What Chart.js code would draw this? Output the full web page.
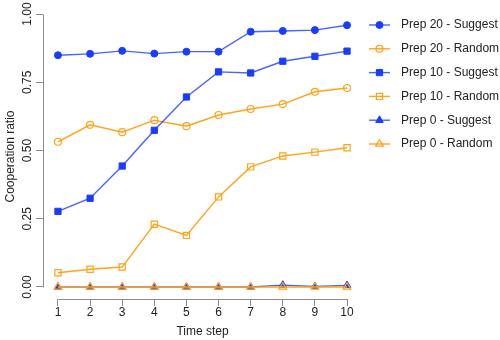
<!DOCTYPE html>
<html>
<head>
<meta charset="utf-8">
<script src="https://cdn.jsdelivr.net/npm/chart.js@4"></script>
<style>
  html, body { margin: 0; padding: 0; background: #fff; }
  #wrap { width: 500px; height: 340px; }
</style>
</head>
<body>
<div id="wrap"><canvas id="graph" width="500" height="340"></canvas></div>
<script>
// data
const steps = [1, 2, 3, 4, 5, 6, 7, 8, 9, 10];
const yTicks = [0, 0.25, 0.5, 0.75, 1];
const seriesNames = ["Prep 20 - Suggest", "Prep 20 - Random", "Prep 10 - Suggest",
                     "Prep 10 - Random", "Prep 0 - Suggest", "Prep 0 - Random"];
const prep20Suggest = [0.849, 0.854, 0.865, 0.855, 0.862, 0.862, 0.935, 0.938, 0.941, 0.959];
const prep20Random  = [0.532, 0.594, 0.567, 0.611, 0.589, 0.630, 0.652, 0.670, 0.715, 0.729];
const prep10Suggest = [0.277, 0.325, 0.443, 0.574, 0.696, 0.788, 0.784, 0.827, 0.845, 0.864];
const prep10Random  = [0.052, 0.065, 0.073, 0.230, 0.189, 0.330, 0.440, 0.480, 0.494, 0.510];
const prep0Suggest  = [0, 0, 0, 0, 0, 0, 0, 0.007, 0.002, 0.006];
const prep0Random   = [0, 0, 0, 0, 0, 0, 0, 0, 0, 0];

const FONT = "'Liberation Sans', Arial, Helvetica, sans-serif";
const BLUE = "#1a3cff";
const BLUE_LINE = "rgba(40,70,255,0.85)";
const ORANGE = "#ffa31a";
const AXIS = "#8c8c8c";
const TEXT = "#222";

function makeSet(i, values, color, lineColor, style, filled) {
  return {
    label: seriesNames[i],
    data: values.map((v, k) => ({ x: steps[k], y: v })),
    borderColor: lineColor,
    borderWidth: 1.4,
    pointStyle: style,
    pointRadius: style === "circle" ? 3.5 : 4.4,
    pointBorderColor: color,
    pointBackgroundColor: filled ? color : "rgba(0,0,0,0)",
    pointBorderWidth: filled ? 1 : 1.2,
    order: -i,
    tension: 0
  };
}

const datasets = [
  makeSet(0, prep20Suggest, BLUE, BLUE_LINE, "circle", true),
  makeSet(1, prep20Random, ORANGE, ORANGE, "circle", false),
  makeSet(2, prep10Suggest, BLUE, BLUE_LINE, "rect", true),
  makeSet(3, prep10Random, ORANGE, ORANGE, "rect", false),
  makeSet(4, prep0Suggest, BLUE, BLUE_LINE, "triangle", true),
  makeSet(5, prep0Random, ORANGE, ORANGE, "triangle", false)
];

// R-style axis lines (only across the tick range), rotated y labels and the legend
const rStyle = {
  id: "rStyle",
  afterDraw(chart) {
    const ctx = chart.ctx;
    const xs = chart.scales.x, ys = chart.scales.y;
    const area = chart.chartArea;
    ctx.save();
    ctx.strokeStyle = AXIS;
    ctx.lineWidth = 1;
    const by = Math.round(area.bottom) + 0.5;
    ctx.beginPath();
    ctx.moveTo(Math.round(xs.getPixelForValue(steps[0])) + 0.5, by);
    ctx.lineTo(Math.round(xs.getPixelForValue(steps[steps.length - 1])) + 0.5, by);
    ctx.stroke();
    const lx = Math.round(area.left) + 0.5;
    ctx.beginPath();
    ctx.moveTo(lx, Math.round(ys.getPixelForValue(yTicks[0])) + 0.5);
    ctx.lineTo(lx, Math.round(ys.getPixelForValue(yTicks[yTicks.length - 1])) + 0.5);
    ctx.stroke();

    // y tick labels, reading bottom to top
    ctx.fillStyle = TEXT;
    ctx.font = "12px " + FONT;
    ctx.textAlign = "center";
    ctx.textBaseline = "middle";
    yTicks.forEach(v => {
      ctx.save();
      ctx.translate(area.left - 15, ys.getPixelForValue(v));
      ctx.rotate(-Math.PI / 2);
      ctx.fillText(v.toFixed(2), 0, 0);
      ctx.restore();
    });

    // legend
    ctx.textAlign = "left";
    datasets.forEach((ds, i) => {
      const y = 25 + i * 23.8;
      ctx.strokeStyle = ds.borderColor;
      ctx.lineWidth = ds.borderWidth;
      ctx.beginPath();
      ctx.moveTo(369, y);
      ctx.lineTo(390, y);
      ctx.stroke();
      ctx.fillStyle = ds.pointBackgroundColor;
      ctx.strokeStyle = ds.pointBorderColor;
      ctx.lineWidth = ds.pointBorderWidth;
      Chart.helpers.drawPoint(ctx, {
        pointStyle: ds.pointStyle, radius: ds.pointRadius, rotation: 0,
        borderWidth: ds.pointBorderWidth
      }, 379.5, y);
      ctx.fillStyle = TEXT;
      ctx.fillText(ds.label, 401, y);
    });
    ctx.restore();
  }
};

new Chart(document.getElementById("graph").getContext("2d"), {
  type: "line",
  data: { datasets: datasets },
  plugins: [rStyle],
  options: {
    responsive: false,
    animation: false,
    devicePixelRatio: 1,
    layout: { padding: { top: 14, right: 138, bottom: 0, left: 0 } },
    plugins: { legend: { display: false }, tooltip: { enabled: false } },
    scales: {
      x: {
        type: "linear",
        min: 0.534, max: 10.466,
        afterBuildTicks: s => { s.ticks = steps.map(v => ({ value: v })); },
        afterFit: s => { s.height = 41; },
        border: { display: false },
        grid: { drawOnChartArea: false, drawTicks: true, tickLength: 7, color: AXIS },
        ticks: { color: TEXT, font: { family: FONT, size: 12 }, padding: -1, maxRotation: 0 },
        title: { display: true, text: "Time step", color: TEXT,
                 font: { family: FONT, size: 12 }, padding: { top: 0, bottom: 1 } }
      },
      y: {
        min: -0.044, max: 1.0,
        afterBuildTicks: s => { s.ticks = yTicks.map(v => ({ value: v })); },
        afterFit: s => { s.width = 43; },
        border: { display: false },
        grid: { drawOnChartArea: false, drawTicks: true, tickLength: 7, color: AXIS },
        ticks: { display: false },
        title: { display: true, text: "Cooperation ratio", color: TEXT,
                 font: { family: FONT, size: 12 }, padding: { top: 3, bottom: 0 } }
      }
    }
  }
});
</script>
</body>
</html>
